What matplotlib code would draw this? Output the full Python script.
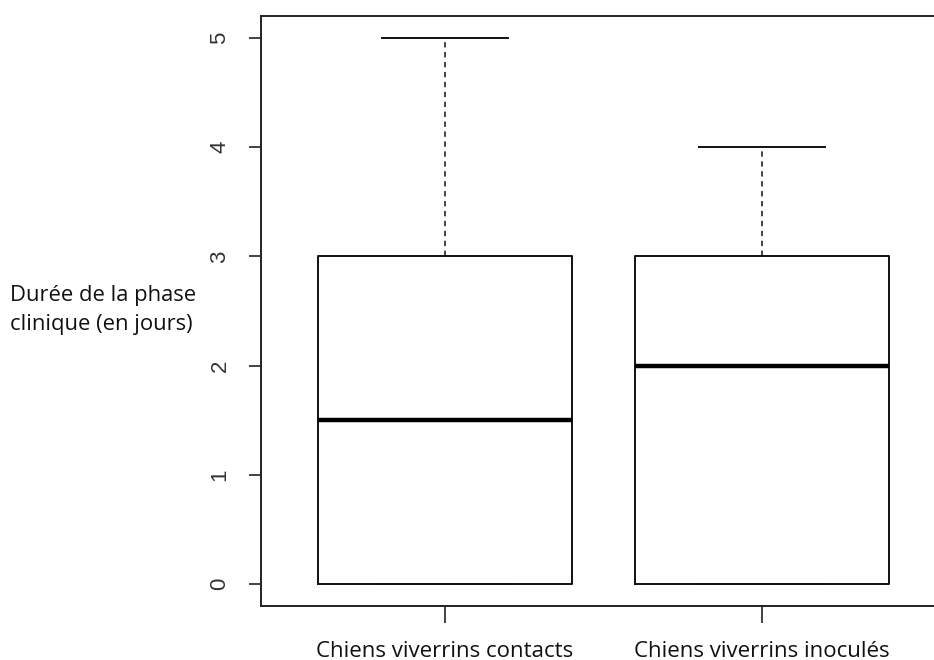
import matplotlib.pyplot as plt

# résumé des deux groupes (quartiles et moustaches, en jours)
groupes = ['Chiens viverrins contacts', 'Chiens viverrins inoculés']
mediane = [1.5, 2.0]
q1 = [0, 0]
q3 = [3, 3]
mini = [0, 0]
maxi = [5, 4]

stats = []
for i in range(len(groupes)):
    stats.append({'label': groupes[i], 'med': mediane[i], 'q1': q1[i], 'q3': q3[i],
                  'whislo': mini[i], 'whishi': maxi[i], 'fliers': []})

fig = plt.figure(figsize=(9.34, 6.6), dpi=100)
ax = fig.add_axes([261 / 934, 1 - 606 / 660, (946 - 261) / 934, (606 - 16) / 660])

ax.bxp(stats, positions=[1, 2], widths=0.8, showfliers=False, patch_artist=False,
       boxprops=dict(color='#111111', linewidth=1.4),
       medianprops=dict(color='black', linewidth=3.2, solid_capstyle='butt'),
       whiskerprops=dict(color='#111111', linewidth=1.1, linestyle=(0, (3.5, 3))),
       capprops=dict(color='#111111', linewidth=1.4),
       capwidths=0.4)

ax.set_xlim(0.42, 2.58)
ax.set_ylim(-0.2, 5.2)
ax.set_yticks([0, 1, 2, 3, 4, 5])
ax.set_xticks([1, 2])
ax.set_xticklabels(groupes, family='Open Sans', fontsize=16, color='#111111')
for t in ax.get_yticklabels():
    t.set_rotation(90)
    t.set_va('center')
    t.set_family('Liberation Sans')
    t.set_fontsize(16)
    t.set_color('#333333')
ax.tick_params(axis='y', length=9, width=1.2, pad=13, color='#222222')
ax.tick_params(axis='x', length=12, width=1.2, pad=13, color='#222222')
for s in ax.spines.values():
    s.set_linewidth(1.4)
    s.set_color('#222222')

fig.text(10 / 934, 1 - 310 / 660, 'Durée de la phase\nclinique (en jours)', family='Open Sans',
         fontsize=15.8, ha='left', va='center', linespacing=1.45, color='#111111')

fig.savefig('out.png', dpi=100)
